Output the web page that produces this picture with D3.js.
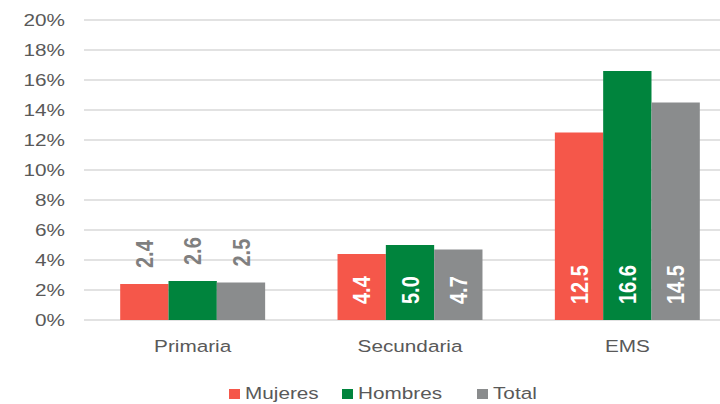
<!DOCTYPE html>
<html>
<head>
<meta charset="utf-8">
<script src="https://cdn.jsdelivr.net/npm/d3@7"></script>
<style>
  body { margin: 0; background: #fff; }
  svg { display: block; font-family: "Liberation Sans", Arial, sans-serif; }
</style>
</head>
<body>
<svg id="chart" width="720" height="404"></svg>
<script>
// values
var categories = ["Primaria", "Secundaria", "EMS"];
var seriesNames = ["Mujeres", "Hombres", "Total"];
var mujeres = [2.4, 4.4, 12.5];
var hombres = [2.6, 5.0, 16.6];
var total = [2.5, 4.7, 14.5];
var labelInside = [false, true, true];
var yTicks = [0, 2, 4, 6, 8, 10, 12, 14, 16, 18, 20];

var colors = ["#f5574a", "#00843d", "#8a8c8d"];
var sx = 1.22; // the picture is a bit stretched sideways

var svg = d3.select("#chart");

var x0 = d3.scaleBand()
  .domain(categories)
  .range([84, 736])
  .paddingInner(0.333)
  .paddingOuter(0.1665);

var x1 = d3.scaleBand()
  .domain(seriesNames)
  .range([0, x0.bandwidth()]);

var y = d3.scaleLinear()
  .domain([0, 20])
  .range([320, 20]);

// grid
svg.append("g")
  .selectAll("line")
  .data(yTicks)
  .enter().append("line")
  .attr("x1", 84)
  .attr("x2", 720)
  .attr("y1", function(d) { return y(d); })
  .attr("y2", function(d) { return y(d); })
  .attr("stroke", "#d9d9d9")
  .attr("stroke-width", 1.5);

// y labels
svg.append("g")
  .selectAll("text")
  .data(yTicks)
  .enter().append("text")
  .attr("transform", function(d) { return "translate(65," + (y(d) + 6) + ") scale(" + sx + ",1)"; })
  .attr("text-anchor", "end")
  .attr("font-size", 17)
  .attr("fill", "#595959")
  .text(function(d) { return d + "%"; });

// x labels
svg.append("g")
  .selectAll("text")
  .data(categories)
  .enter().append("text")
  .attr("transform", function(d) { return "translate(" + (x0(d) + x0.bandwidth() / 2) + ",352) scale(" + sx + ",1)"; })
  .attr("text-anchor", "middle")
  .attr("font-size", 17)
  .attr("fill", "#595959")
  .text(function(d) { return d; });

var rows = categories.map(function(c, i) {
  return { cat: c, inside: labelInside[i], values: [mujeres[i], hombres[i], total[i]] };
});

var groups = svg.append("g")
  .selectAll("g")
  .data(rows)
  .enter().append("g")
  .attr("transform", function(d) { return "translate(" + x0(d.cat) + ",0)"; });

groups.selectAll("rect")
  .data(function(d) { return d.values.map(function(v, j) { return { v: v, s: seriesNames[j], j: j }; }); })
  .enter().append("rect")
  .attr("x", function(d) { return x1(d.s); })
  .attr("width", x1.bandwidth())
  .attr("y", function(d) { return y(d.v); })
  .attr("height", function(d) { return y(0) - y(d.v); })
  .attr("fill", function(d) { return colors[d.j]; });

// data labels, rotated
groups.selectAll("text")
  .data(function(d) { return d.values.map(function(v, j) { return { v: v, s: seriesNames[j], inside: d.inside }; }); })
  .enter().append("text")
  .attr("transform", function(d) {
    var cx = x1(d.s) + x1.bandwidth() / 2;
    var cy = d.inside ? y(0) - 16 : y(d.v) - 16;
    return "translate(" + cx + "," + cy + ") scale(" + sx + ",1) rotate(-90)";
  })
  .attr("dy", "0.36em")
  .attr("text-anchor", "start")
  .attr("font-size", 20)
  .attr("font-weight", "bold")
  .attr("fill", function(d) { return d.inside ? "#ffffff" : "#7f7f7f"; })
  .text(function(d) { return d.v.toFixed(1); });

// legend
var legendX = [229, 342, 477];
var legend = svg.append("g")
  .selectAll("g")
  .data(seriesNames)
  .enter().append("g")
  .attr("transform", function(d, i) { return "translate(" + legendX[i] + ",389)"; });

legend.append("rect")
  .attr("width", 11)
  .attr("height", 10)
  .attr("fill", function(d, i) { return colors[i]; });

legend.append("text")
  .attr("transform", "translate(" + 16 + ",10) scale(" + sx + ",1)")
  .attr("font-size", 17)
  .attr("fill", "#595959")
  .text(function(d) { return d; });
</script>
</body>
</html>
